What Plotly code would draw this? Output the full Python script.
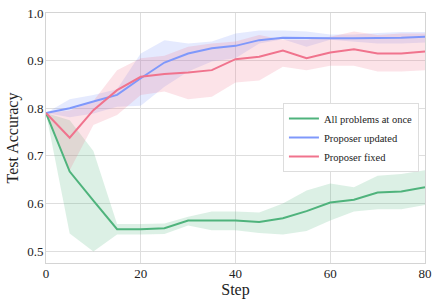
import plotly.graph_objects as go

steps = [0, 5, 10, 15, 20, 25, 30, 35, 40, 45, 50, 55, 60, 65, 70, 75, 80]

all_mean = [0.790, 0.667, 0.606, 0.546, 0.546, 0.548, 0.564, 0.564, 0.564, 0.561, 0.569, 0.584, 0.602, 0.608, 0.623, 0.625, 0.634]
all_lo   = [0.790, 0.537, 0.499, 0.535, 0.535, 0.536, 0.554, 0.544, 0.544, 0.538, 0.535, 0.542, 0.564, 0.583, 0.588, 0.588, 0.597]
all_hi   = [0.790, 0.775, 0.710, 0.557, 0.557, 0.558, 0.572, 0.583, 0.583, 0.581, 0.600, 0.627, 0.642, 0.634, 0.658, 0.662, 0.670]

upd_mean = [0.790, 0.800, 0.814, 0.828, 0.863, 0.896, 0.915, 0.926, 0.931, 0.943, 0.948, 0.947, 0.947, 0.947, 0.947, 0.948, 0.950]
upd_lo   = [0.790, 0.781, 0.789, 0.803, 0.805, 0.845, 0.877, 0.898, 0.905, 0.936, 0.945, 0.929, 0.944, 0.940, 0.936, 0.936, 0.938]
upd_hi   = [0.790, 0.819, 0.828, 0.840, 0.915, 0.943, 0.936, 0.940, 0.957, 0.963, 0.963, 0.961, 0.955, 0.955, 0.958, 0.960, 0.960]

fix_mean = [0.790, 0.738, 0.796, 0.838, 0.866, 0.872, 0.875, 0.880, 0.903, 0.908, 0.921, 0.905, 0.917, 0.924, 0.915, 0.915, 0.919]
fix_lo   = [0.790, 0.670, 0.765, 0.786, 0.828, 0.835, 0.819, 0.824, 0.854, 0.858, 0.887, 0.880, 0.889, 0.889, 0.877, 0.877, 0.880]
fix_hi   = [0.790, 0.795, 0.815, 0.880, 0.905, 0.910, 0.929, 0.936, 0.940, 0.954, 0.944, 0.944, 0.950, 0.961, 0.954, 0.957, 0.957]

series = [
    ("All problems at once", all_mean, all_lo, all_hi, "#4fb37c", "rgba(79,179,124,0.2)"),
    ("Proposer updated", upd_mean, upd_lo, upd_hi, "#7f98fb", "rgba(127,152,251,0.2)"),
    ("Proposer fixed", fix_mean, fix_lo, fix_hi, "#f0738d", "rgba(240,115,141,0.2)"),
]

fig = go.Figure()
for name, m, lo, hi, col, fcol in series:
    fig.add_trace(go.Scatter(x=steps, y=lo, mode="lines", line=dict(width=0),
                             showlegend=False, hoverinfo="skip"))
    fig.add_trace(go.Scatter(x=steps, y=hi, mode="lines", line=dict(width=0),
                             fill="tonexty", fillcolor=fcol, showlegend=False, hoverinfo="skip"))
for name, m, lo, hi, col, fcol in series:
    fig.add_trace(go.Scatter(x=steps, y=m, mode="lines", name=name,
                             line=dict(color=col, width=2)))

font_family = "'Liberation Serif', serif"
fig.update_layout(
    width=439, height=307,
    margin=dict(l=46, r=14, t=13, b=44),
    paper_bgcolor="white", plot_bgcolor="white",
    font=dict(family=font_family, size=13, color="#222222"),
    legend=dict(x=0.984, y=0.502, xanchor="right", yanchor="middle",
                traceorder="normal", itemwidth=30,
                bgcolor="white", bordercolor="#dddddd", borderwidth=1,
                font=dict(size=10.5, family=font_family), tracegroupgap=0),
    showlegend=True,
)
fig.update_xaxes(range=[0, 80], tickvals=[0, 20, 40, 60, 80],
                 showgrid=True, gridcolor="#dedede", gridwidth=1,
                 showline=True, linecolor="#d4d4d4", mirror=True, zeroline=False,
                 ticks="", ticklabelstandoff=-2, automargin=False,
                 title=dict(text="Step", font=dict(size=16), standoff=1),
                 tickfont=dict(size=13))
fig.update_yaxes(range=[0.475, 1.0], tickvals=[0.5, 0.6, 0.7, 0.8, 0.9, 1.0], tickformat=".1f",
                 showgrid=True, gridcolor="#dedede", gridwidth=1,
                 showline=True, linecolor="#d4d4d4", mirror=True, zeroline=False,
                 ticks="", automargin=False, ticklabelstandoff=-1,
                 title=dict(text="Test Accuracy", font=dict(size=16), standoff=4),
                 tickfont=dict(size=13))

fig.write_html("out.html", config={"displayModeBar": False},
               post_script="document.body.style.margin='0';document.body.style.overflow='hidden';")
